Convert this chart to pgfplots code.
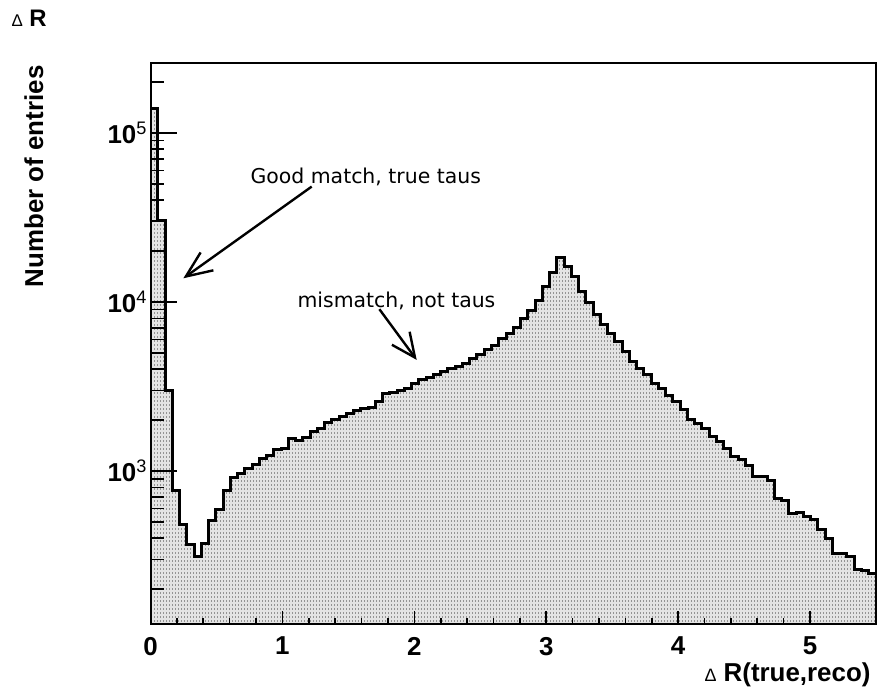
\documentclass[border=0pt]{standalone}
\usepackage{fontspec}
\setmainfont{Liberation Sans}
\newfontfamily\annfont{DejaVu Sans}
\usepackage{pgfplots}
\usepackage{pgfplotstable}
\pgfplotsset{compat=1.18}
\usetikzlibrary{patterns,arrows.meta}

% dotted fill used for the histogram body
\pgfdeclarepatternformonly{rootdots}{\pgfqpoint{-0.1bp}{-0.1bp}}{\pgfqpoint{3.1bp}{4.1bp}}{\pgfqpoint{3bp}{4bp}}{%
  \pgfpathrectangle{\pgfqpoint{0.5bp}{1bp}}{\pgfqpoint{1.7bp}{1.6bp}}\pgfusepath{fill}}

% Delta R histogram: left bin edges (width 0.055) and entries
\pgfplotstableread{
x      y
0.000  139000
0.055  30300
0.110  3010
0.165  764
0.220  481
0.275  365
0.330  311
0.385  370
0.440  508
0.495  593
0.550  764
0.605  913
0.660  969
0.715  1037
0.770  1095
0.825  1189
0.880  1238
0.935  1344
0.990  1355
1.045  1560
1.100  1525
1.155  1583
1.210  1718
1.265  1790
1.320  1942
1.375  2003
1.430  2096
1.485  2174
1.540  2274
1.595  2350
1.650  2383
1.705  2570
1.760  2855
1.815  2907
1.870  2990
1.925  3087
1.980  3274
2.035  3462
2.090  3590
2.145  3745
2.200  3882
2.255  4040
2.310  4160
2.365  4340
2.420  4620
2.475  4900
2.530  5250
2.585  5550
2.640  6040
2.695  6470
2.750  7080
2.805  7980
2.860  8950
2.915  10200
2.970  12300
3.025  15000
3.080  18300
3.135  16300
3.190  14200
3.245  11600
3.300  9900
3.355  8380
3.410  7400
3.465  6500
3.520  5800
3.575  5100
3.630  4450
3.685  4055
3.740  3700
3.795  3300
3.850  3085
3.905  2780
3.960  2572
4.015  2296
4.070  2004
4.125  1915
4.180  1773
4.235  1596
4.290  1490
4.345  1361
4.400  1220
4.455  1162
4.510  1085
4.565  934
4.620  925
4.675  876
4.730  689
4.785  673
4.840  557
4.895  566
4.950  537
5.005  513
5.060  448
5.115  400
5.170  323
5.225  326
5.280  314
5.335  262
5.390  259
5.445  248
5.500  248
}\histdata

\begin{document}
\begin{tikzpicture}
\path[use as bounding box] (0,0) rectangle (877bp,687bp);
\begin{axis}[
  at={(150.5bp,62.5bp)}, anchor=south west,
  scale only axis, width=725.5bp, height=561.5bp,
  xmin=0, xmax=5.5,
  ymode=log, ymin=123.6, ymax=259000,
  axis on top,
  axis line style={line width=2bp},
  tick align=inside,
  xtick pos=bottom, ytick pos=left,
  xtick={0,1,2,3,4,5},
  xticklabels={0,1,2,3,4,5},
  minor x tick num=4,
  ytick={1000,10000,100000},
  yticklabels={10\textsuperscript{\mdseries 3},10\textsuperscript{\mdseries 4},10\textsuperscript{\mdseries 5}},
  minor ytick={200,300,400,500,600,700,800,900,2000,3000,4000,5000,6000,7000,8000,9000,20000,30000,40000,50000,60000,70000,80000,90000,200000},
  xtick style={line width=1.6bp, black, /pgfplots/major tick length=14bp, /pgfplots/minor tick length=7bp},
  ytick style={line width=1.6bp, black, /pgfplots/major tick length=26bp, /pgfplots/minor tick length=13bp},
  ticklabel style={font=\fontsize{26}{30}\selectfont\bfseries},
  xticklabel style={yshift=-9bp},
]
\addplot[const plot, draw=none, fill=gray!22,
  postaction={pattern=rootdots, pattern color=gray!85}] table {\histdata} \closedcycle;
\addplot[const plot, line width=3bp, black] table {\histdata};

\node[anchor=base west, font=\annfont\fontsize{20.5}{24}\selectfont]
  at (axis cs:0.732,50350) {Good match, true taus};
\draw[line width=2.4bp, -{Straight Barb[length=26bp, width=22bp]}]
  (axis cs:1.222,48100) -- (axis cs:0.249,13800);
\node[anchor=base west, font=\annfont\fontsize{20.5}{24}\selectfont]
  at (axis cs:1.088,9330) {mismatch, not taus};
\draw[line width=2.4bp, -{Straight Barb[length=24bp, width=22bp]}]
  (axis cs:1.735,9060) -- (axis cs:2.018,4540);
\end{axis}

\node[anchor=base west, font=\fontsize{24}{28}\selectfont\bfseries]
  at (8bp,660bp) {{\mdseries\fontsize{17}{20}\selectfont Δ} R};
\node[rotate=90, anchor=base east, font=\fontsize{26}{30}\selectfont\bfseries]
  at (43bp,625bp) {Number of entries};
\node[anchor=base east, font=\fontsize{26}{30}\selectfont\bfseries]
  at (874bp,6bp) {{\mdseries\fontsize{18}{20}\selectfont Δ} R(true,reco)};
\end{tikzpicture}
\end{document}
